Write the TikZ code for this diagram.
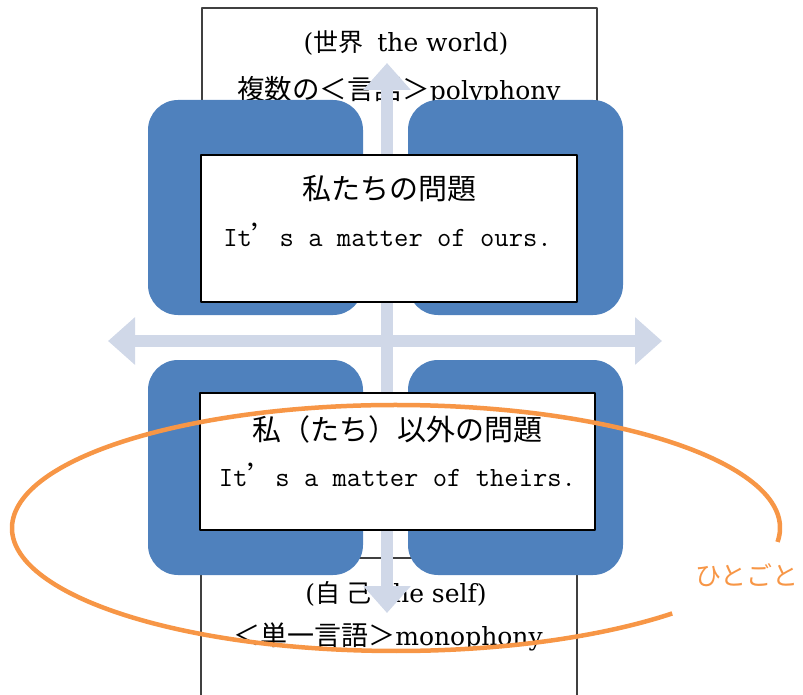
\documentclass[tikz,border=0pt]{standalone}
\usepackage{fontspec}
\newfontfamily\cjk{Noto Sans CJK JP}
\newfontfamily\cjkfull[CharacterWidth=Full]{Noto Sans CJK JP}
\newfontfamily\serifwide{DejaVu Serif}
\usetikzlibrary{arrows.meta}

\definecolor{squareblue}{HTML}{4F81BD}
\definecolor{crossgray}{HTML}{D0D8E8}
\definecolor{ringorange}{HTML}{F79646}
\definecolor{framegray}{HTML}{404040}

\newcommand\jtext[2]{{\fontsize{#1}{#1}\selectfont\cjk #2}}
\newcommand\latinbig{\fontsize{25}{30}\selectfont\serifwide}
\newcommand\monoline{\fontsize{27.8}{32}\selectfont\ttfamily}
\newcommand\jq{{\cjkfull ’}}

\begin{document}
\begin{tikzpicture}[x=1pt, y=-1pt, line join=round,
	frame/.style={draw=framegray, line width=1.2pt},
	bluesq/.style={fill=squareblue, rounded corners=30pt, minimum width=215pt, minimum height=215pt, inner sep=0pt},
	whitebox/.style={draw=black, fill=white, line width=1.4pt, inner sep=0pt},
	crossarrow/.style={crossgray, line width=12pt, {Triangle[width=46pt,length=27pt]}-{Triangle[width=46pt,length=27pt]}},
	ring/.style={draw=ringorange, line width=4.5pt}]
	
	\useasboundingbox (0,0) rectangle (803,695);
	
	% Khung ngoài: thế giới (trên) và bản thân (dưới)
	\draw[frame] (202,8) rectangle (597,250);
	\draw[frame] (201,695) -- (201,558) -- (577,558) -- (577,695);
	\node[anchor=base] (worldhead) at (406,52) {\latinbig(\jtext{25}{世界}\hspace{14pt}the world)};
	\node[anchor=base] (worldvoice) at (399,100) {\latinbig\jtext{27.5}{複数の＜言語＞}polyphony};
	\node[anchor=base] (selfhead) at (396,602) {\latinbig(\jtext{25}{自\hspace{6pt}己}\hspace{12pt}the self)};
	\node[anchor=base] (selfvoice) at (388,645) {\latinbig\jtext{27}{＜単一言語＞}monophony};
	
	% Mũi tên chữ thập
	\coordinate (crossN) at (387,63);
	\coordinate (crossS) at (387,613);
	\coordinate (crossW) at (108,341);
	\coordinate (crossE) at (662,341);
	\draw[crossarrow] (crossN) -- (crossS);
	\draw[crossarrow] (crossW) -- (crossE);
	
	% Bốn ô vuông xanh
	\node[bluesq] (sqNW) at (255.5,207.5) {};
	\node[bluesq] (sqNE) at (515.5,207.5) {};
	\node[bluesq] (sqSW) at (255.5,467.5) {};
	\node[bluesq] (sqSE) at (515.5,467.5) {};
	
	% Hộp trắng: vấn đề của chúng ta
	\node[whitebox, minimum width=376pt, minimum height=147pt] (ours) at (389,228.5) {};
	\node[anchor=base] (ourshead) at (389.5,200) {\jtext{29}{私たちの問題}};
	\node[anchor=base] (oursline) at (387.5,247) {\monoline It\jq s a matter of ours.};
	
	% Hộp trắng: vấn đề của người khác
	\node[whitebox, minimum width=395pt, minimum height=137pt] (theirs) at (397.5,461.5) {};
	\node[anchor=base] (theirshead) at (397.5,440) {\jtext{29}{私（たち）以外の問題}};
	\node[anchor=base] (theirsline) at (397.5,486) {\monoline It\jq s a matter of theirs.};
	
	% Vòng cam hở và chú thích
	\coordinate (ringc) at (396,528);
	\draw[ring] (ringc) ++(6.5:384 and 123) arc[start angle=6.5, end angle=-316, x radius=384, y radius=123];
	\node[anchor=base west, text=ringorange] (hitogoto) at (692,585) {\jtext{26}{ひとごと}};
	
\end{tikzpicture}
\end{document}
